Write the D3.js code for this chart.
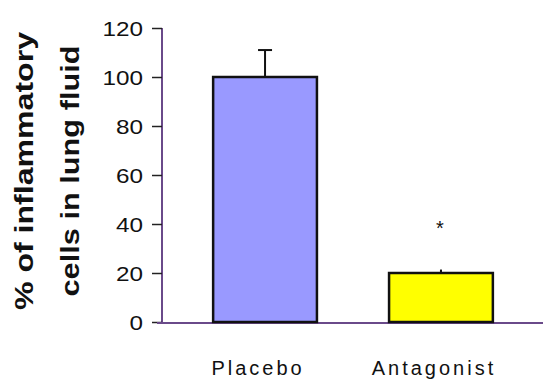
<!DOCTYPE html>
<html>
<head>
<meta charset="utf-8">
<script src="https://cdn.jsdelivr.net/npm/d3@7.9.0/dist/d3.min.js"></script>
<style>
  body { margin: 0; background: #fff; }
  svg { display: block; font-family: Arial, "Liberation Sans", sans-serif; }
</style>
</head>
<body>
<svg width="543" height="379"></svg>
<script>
// chart data
const groups = ['Placebo', 'Antagonist'];
const means = [100, 20];
const errors = [11, 1];
const barColors = ['#9999ff', '#ffff00'];
const yTicks = [0, 20, 40, 60, 80, 100, 120];
const significance = ['', '*'];

const svg = d3.select('svg');

const x = d3.scaleBand()
  .domain(groups)
  .range([163, 543])
  .paddingInner(0.41)
  .paddingOuter(0.285);

const y = d3.scaleLinear()
  .domain([0, 120])
  .range([322, 28]);

// y axis
let yAxis = svg.append('g')
  .attr('transform', 'translate(162,0)')
  .call(d3.axisLeft(y).tickValues(yTicks).tickSize(10).tickPadding(9));
yAxis.select('.domain').attr('stroke', '#6a4a8a').attr('stroke-width', 2)
  .attr('d', `M0,${y(120)}V${y(0) + 1}`);
yAxis.selectAll('.tick line').attr('stroke', '#222').attr('stroke-width', 1.5);
yAxis.selectAll('.tick text')
  .attr('font-size', 21)
  .attr('fill', '#111')
  .attr('dy', '0.36em')
  .attr('textLength', d => String(d).length * 13.5)
  .attr('lengthAdjust', 'spacingAndGlyphs');

// x axis line
svg.append('line')
  .attr('x1', 157).attr('x2', 543)
  .attr('y1', y(0) + 1).attr('y2', y(0) + 1)
  .attr('stroke', '#6a4a8a').attr('stroke-width', 2);

// bars
svg.selectAll('rect.bar')
  .data(groups)
  .join('rect')
  .attr('class', 'bar')
  .attr('x', d => x(d))
  .attr('width', x.bandwidth())
  .attr('y', (d, i) => y(means[i]))
  .attr('height', (d, i) => y(0) - y(means[i]))
  .attr('fill', (d, i) => barColors[i])
  .attr('stroke', '#111')
  .attr('stroke-width', 2.5);

// error bars (upper only)
groups.forEach((g, i) => {
  const cx = x(g) + x.bandwidth() / 2;
  const cap = errors[i] > 2 ? 7 : 1;
  svg.append('line')
    .attr('x1', cx).attr('x2', cx)
    .attr('y1', y(means[i])).attr('y2', y(means[i] + errors[i]))
    .attr('stroke', '#111').attr('stroke-width', 2);
  svg.append('line')
    .attr('x1', cx - cap).attr('x2', cx + cap)
    .attr('y1', y(means[i] + errors[i])).attr('y2', y(means[i] + errors[i]))
    .attr('stroke', '#111').attr('stroke-width', 2);
  if (significance[i]) {
    svg.append('text')
      .attr('x', cx - 1)
      .attr('y', y(means[i]) - 38)
      .attr('text-anchor', 'middle')
      .attr('font-size', 20)
      .attr('fill', '#111')
      .text(significance[i]);
  }
});

// category labels
svg.selectAll('text.cat')
  .data(groups)
  .join('text')
  .attr('class', 'cat')
  .attr('x', d => x(d) + x.bandwidth() / 2 - 7)
  .attr('y', 375)
  .attr('text-anchor', 'middle')
  .attr('font-size', 20)
  .attr('letter-spacing', 3)
  .attr('fill', '#111')
  .text(d => d);

// y axis title, two lines
const titleLines = ['% of inflammatory', 'cells in lung fluid'];
const titleLens = [278, 251];
svg.selectAll('text.ytitle')
  .data(titleLines)
  .join('text')
  .attr('class', 'ytitle')
  .attr('transform', (d, i) => `translate(${33 + i * 46},171) rotate(-90)`)
  .attr('text-anchor', 'middle')
  .attr('font-size', 26)
  .attr('font-weight', 'bold')
  .attr('fill', '#111')
  .attr('textLength', (d, i) => titleLens[i])
  .attr('lengthAdjust', 'spacingAndGlyphs')
  .text(d => d);
</script>
</body>
</html>
